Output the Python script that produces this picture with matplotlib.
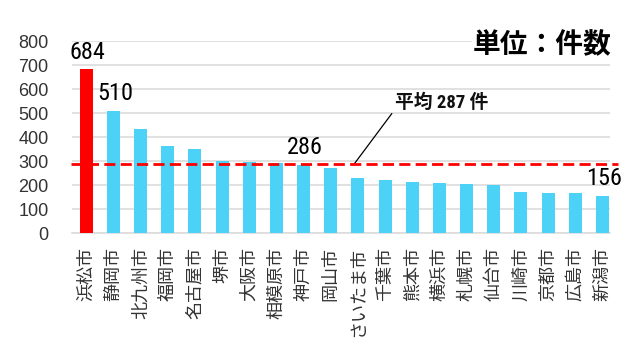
import matplotlib.pyplot as plt
import numpy as np

cities = ["浜松市", "静岡市", "北九州市", "福岡市", "名古屋市", "堺市", "大阪市", "相模原市",
          "神戸市", "岡山市", "さいたま市", "千葉市", "熊本市", "横浜市", "札幌市", "仙台市",
          "川崎市", "京都市", "広島市", "新潟市"]
counts = [684, 510, 435, 365, 352, 302, 298, 291, 286, 273, 229, 223, 215, 209, 206, 202,
          174, 168, 168, 156]
labeled = [0, 1, 8, 19]
avg = 287
yticks = [0, 100, 200, 300, 400, 500, 600, 700, 800]

num_font = ["Roboto Condensed", "Noto Sans CJK JP"]
jp_font = ["Noto Sans CJK JP", "DejaVu Sans"]

fig = plt.figure(figsize=(6.4, 3.57), dpi=100)
ax = fig.add_axes([0.1125, 0.3465, 0.953 - 0.1125, 0.8843 - 0.3465])

x = np.arange(len(cities))
colors = ["#ff0000"] + ["#4cd1f7"] * (len(cities) - 1)
ax.bar(x, counts, width=0.48, color=colors, zorder=3)

ax.set_ylim(0, 800)
ax.set_xlim(-0.526, 19.276)
ax.set_yticks(yticks)
ax.yaxis.grid(True, color="#dcdcdc", linewidth=1.2, zorder=0)
for s in ["left", "top", "right"]:
    ax.spines[s].set_visible(False)
ax.spines["bottom"].set_color("#dcdcdc")
ax.spines["bottom"].set_linewidth(1.2)
ax.tick_params(axis="both", length=0)
ax.tick_params(axis="y", pad=17)
ax.tick_params(axis="x", pad=10)
ax.set_yticklabels([str(v) for v in yticks], family=["Liberation Sans", "DejaVu Sans"],
                   fontsize=13, color="#333333")
ax.set_xticks(x)
ax.set_xticklabels(cities, rotation=90, family=jp_font, fontsize=13, color="#333333",
                   va="top", ha="center")

# average line
ax.plot([-0.55, 19.57], [avg, avg], color="#ff0000", linestyle=(0, (4.0, 1.9)),
        linewidth=2.0, zorder=4, clip_on=False)
ax.annotate("平均 287 件", xy=(9.85, avg), xytext=(11.35, 545),
            family=num_font, fontsize=13.5, fontweight="bold",
            va="center", ha="left", color="#111111",
            arrowprops=dict(arrowstyle="-", color="black", lw=0.9, shrinkA=0, shrinkB=0,
                            relpos=(0, 0.1)))

for i in labeled:
    ax.annotate(str(counts[i]), xy=(x[i], counts[i]), xytext=(1, 4), textcoords="offset points",
                ha="center", va="bottom", family=num_font, fontsize=17.5, color="black")

fig.text(0.956, 0.874, "単位：件数", ha="right", va="center", family=jp_font, fontsize=20,
         fontweight="bold", color="black",
         bbox=dict(facecolor="white", edgecolor="none", pad=1))

fig.savefig("out.png", dpi=100)
